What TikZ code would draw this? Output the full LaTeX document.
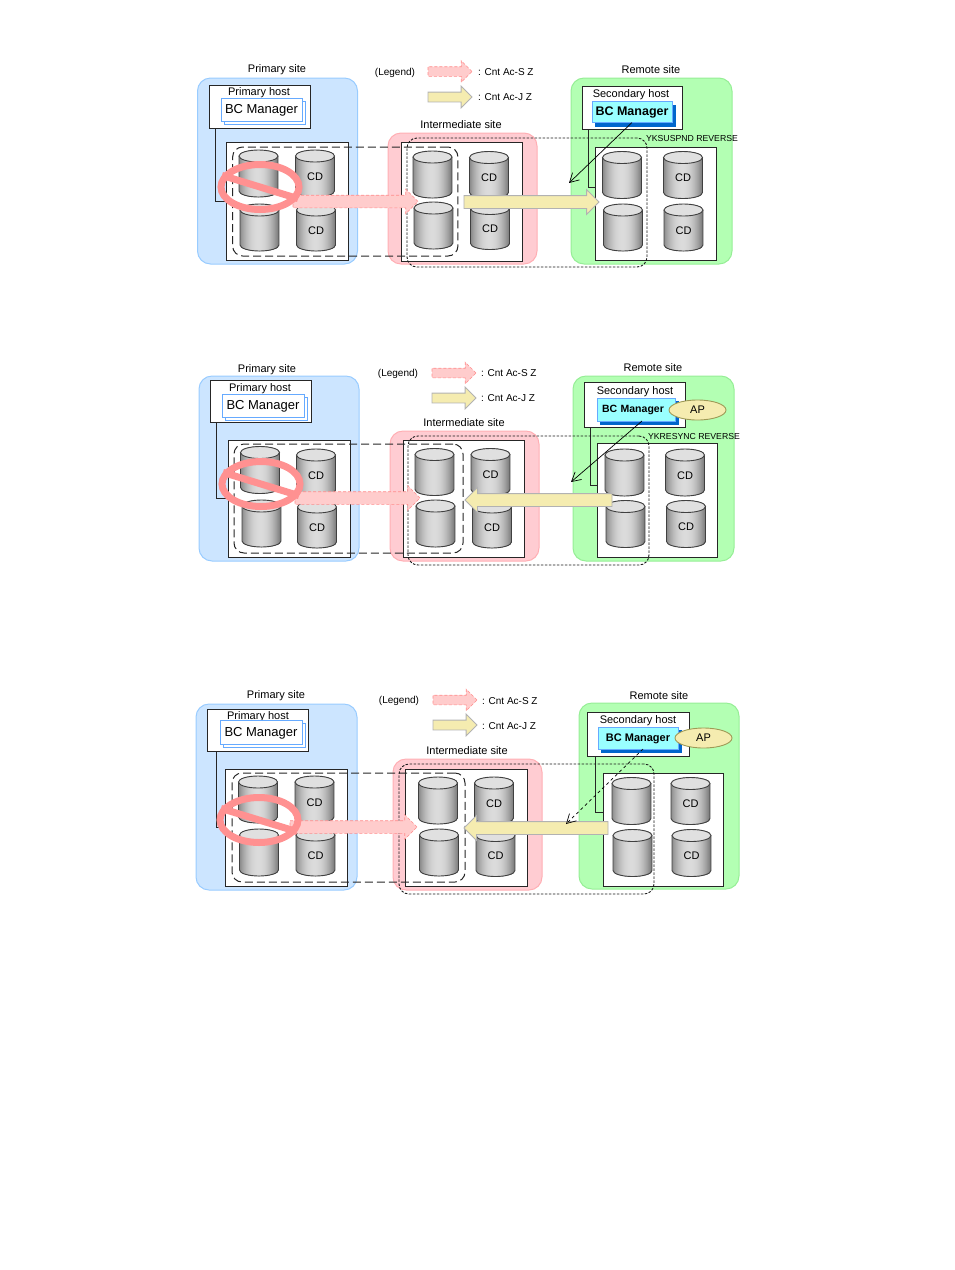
\documentclass[tikz,border=0pt]{standalone}
\usepackage{fontspec}
\setmainfont{Liberation Sans}
\definecolor{siteblue}{RGB}{204,229,255}
\definecolor{siteblueline}{RGB}{153,204,255}
\definecolor{sitepink}{RGB}{255,204,210}
\definecolor{sitepinkline}{RGB}{255,175,180}
\definecolor{sitegreen}{RGB}{179,255,179}
\definecolor{sitegreenline}{RGB}{150,238,150}
\definecolor{mgrcyan}{RGB}{153,255,255}
\definecolor{mgrblue}{RGB}{0,102,204}
\definecolor{mgrline}{RGB}{102,170,255}
\definecolor{arrowpink}{RGB}{255,204,204}
\definecolor{arrowpinkline}{RGB}{255,140,140}
\definecolor{arrowyellow}{RGB}{245,236,176}
\definecolor{ringred}{RGB}{255,145,145}
\usepackage{tikz}
\usetikzlibrary{arrows.meta,shapes.geometric,shapes.arrows,shadows}
\tikzset{
  pics/disk/.style={code={
    \begin{scope}
      \clip (-19.5,-17.5) -- (-19.5,17.5) arc (180:360:19.5pt and 6pt) -- (19.5,-17.5) arc (0:180:19.5pt and 6pt) -- cycle;
      \foreach \stripx in {-19.5,-18.5,...,19} {
        \pgfmathsetmacro\stripk{14+36*((\stripx+1.5)/19.5)^2}
        \fill[black!\stripk] (\stripx,-24) rectangle (19.5,24);
      }
    \end{scope}
    \draw[draw=black!75, line width=0.9pt]
      (-19.5,-17.5) -- (-19.5,17.5) arc (180:360:19.5pt and 6pt) -- (19.5,-17.5);
    \draw[draw=black!75, line width=0.9pt, fill=black!12] (0,-17.5) ellipse (19.5pt and 6pt);
    \node[inner sep=0pt, font=\fontsize{11}{13}\selectfont] (-lbl) at (0,3) {#1};
  }}
}

\begin{document}
\begin{tikzpicture}[x=1pt, y=-1pt,
  sitebox/.style={draw, rounded corners=13pt, line width=1pt, inner sep=0pt, outer sep=0pt},
  bluesite/.style={sitebox, draw=siteblueline, fill=siteblue},
  pinksite/.style={sitebox, draw=sitepinkline, fill=sitepink},
  greensite/.style={sitebox, draw=sitegreenline, fill=sitegreen},
  hostbox/.style={draw=black!85, fill=white, line width=0.9pt, inner sep=0pt, outer sep=0pt},
  storebox/.style={hostbox},
  pairbox/.style={draw=black!85, dash pattern=on 8pt off 4pt, line width=1pt, rounded corners=10pt, inner sep=0pt, outer sep=0pt},
  groupbox/.style={draw=black!90, dash pattern=on 2.5pt off 1.5pt, line width=0.9pt, rounded corners=10pt, inner sep=0pt, outer sep=0pt},
  whitemgr/.style={draw=mgrline, fill=white, line width=0.8pt, inner sep=0pt, outer sep=0pt,
    text depth=1pt, font=\fontsize{13}{15}\selectfont,
    copy shadow={shadow xshift=3pt, shadow yshift=-3pt, draw=mgrline, fill=white}},
  cyanmgr/.style={draw=mgrline, fill=mgrcyan, line width=0.8pt, inner sep=0pt, outer sep=0pt,
    text depth=1pt, font=\fontsize{11}{13}\selectfont\bfseries,
    copy shadow={shadow xshift=3.5pt, shadow yshift=-3.5pt, draw=mgrblue, fill=mgrblue}},
  apnode/.style={ellipse, draw=black!30!arrowyellow!70!olive, fill=arrowyellow, line width=0.9pt, minimum width=57pt, minimum height=20pt,
    inner sep=0pt, font=\fontsize{11}{13}\selectfont},
  pinkarrow/.style={single arrow, anchor=tail, draw=arrowpinkline, densely dashed, fill=arrowpink, line width=0.6pt,
    inner sep=6pt, minimum width=0pt, single arrow head extend=6pt, outer sep=0pt},
  yellowarrow/.style={single arrow, anchor=tail, draw=black!30, fill=arrowyellow, line width=0.8pt,
    inner sep=6pt, minimum width=0pt, single arrow head extend=6pt, outer sep=0pt},
  keyarrow/.style={minimum height=44pt, inner sep=4.5pt, single arrow head extend=6pt},
  noentry/.style={ellipse, draw=ringred, line width=7pt, minimum width=78pt, minimum height=45pt, inner sep=0pt},
  noline/.style={draw=ringred, line width=7pt},
  wire/.style={draw=black!85, line width=0.9pt},
  syncline/.style={draw=black, line width=0.7pt, -{Straight Barb[length=9pt,width=10pt]}},
  lbl/.style={inner sep=0pt, yshift=-1pt, font=\fontsize{11}{13}\selectfont},
  keylbl/.style={lbl, anchor=west, font=\fontsize{10}{12}\selectfont},
  smalllbl/.style={inner sep=0pt, yshift=-0.5pt, font=\fontsize{8.7}{10}\selectfont}]

\useasboundingbox (0,0) rectangle (954,1270);

\node[bluesite, minimum width=160pt, minimum height=186pt] (psite1) at (277.5,171) {};
\node[pinksite, minimum width=149pt, minimum height=131pt] (isite1) at (462.5,198.5) {};
\node[greensite, minimum width=161pt, minimum height=186pt] (rsite1) at (651.5,171) {};
\node[lbl] (ptitle1) at (277,69) {Primary site};
\node[lbl] (ititle1) at (461,124) {Intermediate site};
\node[lbl] (rtitle1) at (651,69) {Remote site};
\node[lbl, font=\fontsize{10}{12}\selectfont] (legend1) at (395,71.5) {(Legend)};
\node[pinkarrow, keyarrow] (keys1) at (428,71.5) {};
\node[yellowarrow, keyarrow] (keyj1) at (428,97) {};
\node[keylbl] (keystext1) at (478,71.5) {: Cnt Ac-S Z};
\node[keylbl] (keyjtext1) at (478,96.5) {: Cnt Ac-J Z};
\node[hostbox, minimum width=101pt, minimum height=43pt] (phost1) at (259.5,106.5) {};
\node[hostbox, minimum width=100pt, minimum height=43pt] (shost1) at (632,107.5) {};
\node[lbl] (phostlbl1) at (259,92) {Primary host};
\node[lbl] (shostlbl1) at (631,94) {Secondary host};
\node[whitemgr, minimum width=81pt, minimum height=23pt] (pmgr1) at (261.5,109.5) {BC Manager};
\node[cyanmgr, minimum width=80pt, minimum height=21pt, font=\fontsize{12.5}{14}\selectfont\bfseries] (smgr1) at (632,112) {BC Manager};
\node[storebox, minimum width=122pt, minimum height=117.5pt] (pstore1) at (287,201.25) {};
\node[storebox, minimum width=121pt, minimum height=118.5pt] (istore1) at (461.5,201.75) {};
\node[storebox, minimum width=121pt, minimum height=113pt] (rstore1) at (655.5,203.5) {};
\coordinate (rjoin1) at (rstore1.west |- 0,187);
\coordinate (target1) at (569,183);
\draw[wire] ([xshift=6.5pt]phost1.south west) |- (pstore1.west);
\draw[wire] ([xshift=6pt]shost1.south west) |- (rjoin1);
\pic (pa1) at (258.5,173.5) {disk={}};
\pic (pb1) at (259.5,227.5) {disk={}};
\pic (pc1) at (315,173.5) {disk={CD}};
\pic (pd1) at (316,227.5) {disk={CD}};
\pic (ia1) at (432.5,174.5) {disk={}};
\pic (ib1) at (433.5,225.5) {disk={}};
\pic (ic1) at (489,175) {disk={CD}};
\pic (id1) at (490,226) {disk={CD}};
\pic (ra1) at (622,175) {disk={}};
\pic (rb1) at (623,227.5) {disk={}};
\pic (rc1) at (683,175) {disk={CD}};
\pic (rd1) at (683.5,227.5) {disk={CD}};
\node[pairbox, minimum width=225.3pt, minimum height=109pt] (pair1) at (345.3,201.5) {};
\node[groupbox, minimum width=240pt, minimum height=129pt] (group1) at (527,202.5) {};
\node[smalllbl] (cmd1) at (692,138) {YKSUSPND REVERSE};
\node[pinkarrow, minimum height=125pt] (copys1) at (293,201.5) {};
\node[yellowarrow, minimum height=135pt] (copyj1) at (464,202) {};
\node[noentry] (stop1) at (260,187) {};
\draw[noline] (stop1.163) -- (stop1.-17);
\draw[syncline] (smgr1.south) -- (target1);

\node[bluesite, minimum width=160pt, minimum height=185pt] (psite2) at (279,468.5) {};
\node[pinksite, minimum width=149pt, minimum height=130pt] (isite2) at (464.5,496) {};
\node[greensite, minimum width=161pt, minimum height=185pt] (rsite2) at (653.5,468.5) {};
\node[lbl] (ptitle2) at (267,369) {Primary site};
\node[lbl] (ititle2) at (464,422) {Intermediate site};
\node[lbl] (rtitle2) at (653,367) {Remote site};
\node[lbl, font=\fontsize{10}{12}\selectfont] (legend2) at (398,372.5) {(Legend)};
\node[pinkarrow, keyarrow] (keys2) at (432,373) {};
\node[yellowarrow, keyarrow] (keyj2) at (432,398) {};
\node[keylbl] (keystext2) at (481,372.5) {: Cnt Ac-S Z};
\node[keylbl] (keyjtext2) at (481,397.5) {: Cnt Ac-J Z};
\node[hostbox, minimum width=101pt, minimum height=42pt] (phost2) at (260.5,401) {};
\node[hostbox, minimum width=101pt, minimum height=45pt] (shost2) at (634.5,404.5) {};
\node[lbl] (phostlbl2) at (260,387.5) {Primary host};
\node[lbl] (shostlbl2) at (635,391) {Secondary host};
\node[whitemgr, minimum width=82pt, minimum height=23pt] (pmgr2) at (263,405.5) {BC Manager};
\node[cyanmgr, minimum width=78pt, minimum height=23pt, text width=74pt, align=left, font=\fontsize{10.5}{12}\selectfont\bfseries] (smgr2) at (636,409.5) {\hspace*{3pt}BC Manager};
\node[apnode] (ap2) at (697.5,410) {AP};
\node[storebox, minimum width=122pt, minimum height=117pt] (pstore2) at (289,498.5) {};
\node[storebox, minimum width=121pt, minimum height=117pt] (istore2) at (463.5,498.5) {};
\node[storebox, minimum width=120pt, minimum height=114pt] (rstore2) at (657,500) {};
\coordinate (rjoin2) at (rstore2.west |- 0,485);
\coordinate (target2) at (571,482);
\draw[wire] ([xshift=6pt]phost2.south west) |- (pstore2.west);
\draw[wire] ([xshift=6pt]shost2.south west) |- (rjoin2);
\pic (pa2) at (260,470) {disk={}};
\pic (pb2) at (261.5,523.5) {disk={}};
\pic (pc2) at (316,472.5) {disk={CD}};
\pic (pd2) at (317,524.5) {disk={CD}};
\pic (ia2) at (434.5,472) {disk={}};
\pic (ib2) at (435.5,523.5) {disk={}};
\pic (ic2) at (490.5,472) {disk={CD}};
\pic (id2) at (492,524.5) {disk={CD}};
\pic (ra2) at (624.5,472.5) {disk={}};
\pic (rb2) at (625.5,524) {disk={}};
\pic (rc2) at (685,472.5) {disk={CD}};
\pic (rd2) at (686,524) {disk={CD}};
\node[pairbox, minimum width=229pt, minimum height=109pt] (pair2) at (348.5,498.5) {};
\node[groupbox, minimum width=241pt, minimum height=129pt] (group2) at (528.5,500.5) {};
\node[smalllbl] (cmd2) at (694,436) {YKRESYNC REVERSE};
\node[pinkarrow, minimum height=125pt] (copys2) at (295,498) {};
\node[yellowarrow, minimum height=147pt, shape border rotate=180] (copyj2) at (612,500) {};
\node[noentry] (stop2) at (261,484) {};
\draw[noline] (stop2.163) -- (stop2.-17);
\draw[syncline] ([xshift=6pt]smgr2.south) -- (target2);

\node[bluesite, minimum width=161pt, minimum height=186pt] (psite3) at (276.5,797) {};
\node[pinksite, minimum width=149pt, minimum height=131pt] (isite3) at (467.5,824.5) {};
\node[greensite, minimum width=160pt, minimum height=186pt] (rsite3) at (659,796) {};
\node[lbl] (ptitle3) at (276,695) {Primary site};
\node[lbl] (ititle3) at (467,750) {Intermediate site};
\node[lbl] (rtitle3) at (659,695) {Remote site};
\node[lbl, font=\fontsize{10}{12}\selectfont] (legend3) at (399,700) {(Legend)};
\node[pinkarrow, keyarrow] (keys3) at (433,700) {};
\node[yellowarrow, keyarrow] (keyj3) at (433,725) {};
\node[keylbl] (keystext3) at (482,700) {: Cnt Ac-S Z};
\node[keylbl] (keyjtext3) at (482,725) {: Cnt Ac-J Z};
\node[hostbox, minimum width=101pt, minimum height=42pt] (phost3) at (257.5,730) {};
\node[hostbox, minimum width=102pt, minimum height=44pt] (shost3) at (638,734) {};
\node[lbl] (phostlbl3) at (258,716) {Primary host};
\node[lbl] (shostlbl3) at (638,720) {Secondary host};
\node[whitemgr, minimum width=82pt, minimum height=24pt] (pmgr3) at (261,732) {BC Manager};
\node[cyanmgr, minimum width=80pt, minimum height=22pt] (smgr3) at (638,738) {BC Manager};
\node[apnode] (ap3) at (703.5,738) {AP};
\node[storebox, minimum width=122pt, minimum height=117pt] (pstore3) at (286,827.5) {};
\node[storebox, minimum width=122pt, minimum height=117pt] (istore3) at (466,827.5) {};
\node[storebox, minimum width=120pt, minimum height=113pt] (rstore3) at (663,829.5) {};
\coordinate (rjoin3) at (rstore3.west |- 0,812);
\coordinate (target3) at (566,824);
\draw[wire] ([xshift=9pt]phost3.south west) |- (pstore3.west);
\draw[wire] ([xshift=8pt]shost3.south west) |- (rjoin3);
\pic (pa3) at (258,799.5) {disk={}};
\pic (pb3) at (259,852.5) {disk={}};
\pic (pc3) at (314.5,799.5) {disk={CD}};
\pic (pd3) at (315.5,852.5) {disk={CD}};
\pic (ia3) at (438,800.5) {disk={}};
\pic (ib3) at (439,852.5) {disk={}};
\pic (ic3) at (494,800.5) {disk={CD}};
\pic (id3) at (495.5,853) {disk={CD}};
\pic (ra3) at (631.5,801) {disk={}};
\pic (rb3) at (632.5,853) {disk={}};
\pic (rc3) at (690.5,801) {disk={CD}};
\pic (rd3) at (691.5,853) {disk={CD}};
\node[pairbox, minimum width=233pt, minimum height=109pt] (pair3) at (348.5,827.5) {};
\node[groupbox, minimum width=255pt, minimum height=130pt] (group3) at (526.5,829) {};
\node[pinkarrow, minimum height=127pt] (copys3) at (290,827) {};
\node[yellowarrow, minimum height=144pt, shape border rotate=180] (copyj3) at (608,828) {};
\node[noentry] (stop3) at (259,820) {};
\draw[noline] (stop3.163) -- (stop3.-17);
\draw[syncline, dashed] ([xshift=5pt]smgr3.south) -- (target3);

\end{tikzpicture}
\end{document}
